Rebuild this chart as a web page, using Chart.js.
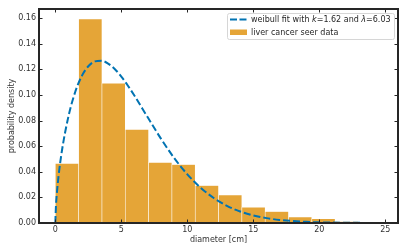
<!DOCTYPE html>
<html>
<head>
<meta charset="utf-8">
<script src="https://cdn.jsdelivr.net/npm/chart.js@4.4.1/dist/chart.umd.min.js"></script>
<style>
html,body{margin:0;padding:0;background:#fff}
#wrap{width:407px;height:252px}
</style>
</head>
<body>
<div id="wrap"><canvas id="myChart" width="407" height="252"></canvas></div>
<script>
// histogram: bin centres (cm) and density
const binCenters = [0.883,2.650,4.416,6.182,7.949,9.715,11.482,13.248,15.015,16.781,18.547,20.314,22.080,23.847];
const binDensity = [0.0465,0.1593,0.1092,0.0731,0.0473,0.0457,0.0293,0.0219,0.0123,0.0090,0.0047,0.0034,0.0011,0.0003];

// weibull fit curve
const fitX = [0,0.05,0.1,0.25,0.5,1,1.5,2,2.5,3,3.5,4,4.5,5,5.5,6,7,8,9,10,11,12,13,14,15,16,17,18,19,20,22,24.7];
const fitY = [0,0.0138,0.0211,0.0371,0.0564,0.0835,0.1021,0.1147,0.1224,0.1262,0.1267,0.1245,0.1203,0.1143,0.1072,0.0993,0.0825,0.0659,0.0508,0.0380,0.0276,0.0195,0.0134,0.0090,0.0059,0.0038,0.0024,0.0015,0.0009,0.0005,0.0002,0.0000];

const xTicks = [0,5,10,15,20,25];
const yTicks = [0,0.02,0.04,0.06,0.08,0.10,0.12,0.14,0.16];

const fitLabel = ["weibull fit with ", "k", "=1.62 and ", "\u03bb", "=6.03"];
const barLabel = "liver cancer seer data";
const xTitle = "diameter [cm]";
const yTitle = "probability density";

const barColor = "rgba(222,143,5,0.8)";
const lineColor = "#0173B2";
const frameColor = "#262626";
const fontFamily = "'DejaVu Sans', sans-serif";

function line(ctx,x1,y1,x2,y2){
    ctx.beginPath(); ctx.moveTo(x1,y1); ctx.lineTo(x2,y2); ctx.stroke();
}

const framePlugin = {
    id: 'frame',
    afterDatasetsDraw(chart){
        const ctx = chart.ctx;
        const a = chart.chartArea;
        const x = chart.scales.x, y = chart.scales.y;
        ctx.save();
        ctx.strokeStyle = frameColor;
        ctx.lineWidth = 1;
        xTicks.forEach(v => {
            const px = Math.round(x.getPixelForValue(v)) + 0.5;
            line(ctx,px,a.bottom,px,a.bottom-3.5);
            line(ctx,px,a.top,px,a.top+3.5);
        });
        yTicks.forEach(v => {
            const py = Math.round(y.getPixelForValue(v)) + 0.5;
            line(ctx,a.left,py,a.left+3.5,py);
            line(ctx,a.right,py,a.right-3.5,py);
        });
        ctx.lineWidth = 2;
        ctx.strokeRect(a.left,a.top,a.right-a.left,a.bottom-a.top);

        // legend
        const lx = 227, ly = 13, lw = 167, lh = 26;
        ctx.beginPath();
        ctx.roundRect(lx+0.5,ly+0.5,lw,lh,2);
        ctx.fillStyle = "rgba(255,255,255,0.8)";
        ctx.fill();
        ctx.strokeStyle = "#d6d6d6";
        ctx.lineWidth = 1;
        ctx.stroke();

        ctx.strokeStyle = lineColor;
        ctx.lineWidth = 2;
        ctx.setLineDash([7,2.5]);
        line(ctx,230,19.5,247,19.5);
        ctx.setLineDash([]);
        ctx.fillStyle = barColor;
        ctx.fillRect(230,29.5,17,5.5);

        ctx.fillStyle = "#262626";
        ctx.textBaseline = "middle";
        ctx.textAlign = "left";
        let tx = 251;
        fitLabel.forEach((part,i) => {
            ctx.font = (i === 1 || i === 3 ? "italic " : "") + "8px " + fontFamily;
            ctx.fillText(part,tx,19.5);
            tx += ctx.measureText(part).width;
        });
        ctx.font = "8px " + fontFamily;
        ctx.fillText(barLabel,251,32.5);
        ctx.restore();
    }
};

new Chart("myChart", {
    type: "bar",
    data: {
        datasets: [
            {
                type: "line",
                label: fitLabel.join(""),
                data: fitX.map((v,i) => ({x: v, y: fitY[i]})),
                borderColor: lineColor,
                borderWidth: 2,
                borderDash: [7,3],
                pointRadius: 0,
                fill: false,
                cubicInterpolationMode: "monotone",
                order: 0
            },
            {
                type: "bar",
                label: barLabel,
                data: binCenters.map((v,i) => ({x: v, y: binDensity[i]})),
                backgroundColor: barColor,
                borderColor: "rgba(255,255,255,0.7)",
                borderWidth: 0.6,
                barPercentage: 1,
                categoryPercentage: 1,
                order: 1
            }
        ]
    },
    options: {
        responsive: false,
        animation: false,
        layout: {padding: {left: 0, right: 9, top: 9, bottom: 0}},
        plugins: {legend: {display: false}, tooltip: {enabled: false}},
        scales: {
            x: {
                type: "linear",
                offset: false,
                min: -1.236,
                max: 25.96,
                grid: {display: false, drawTicks: false, offset: false},
                border: {display: false},
                afterBuildTicks: s => { s.ticks = xTicks.map(v => ({value: v})); },
                afterFit: s => { s.height = 29; },
                ticks: {padding: 2, color: "#333", font: {family: fontFamily, size: 8}},
                title: {display: true, text: xTitle, color: "#333", padding: {top: 0, bottom: 7.5}, font: {family: fontFamily, size: 8}}
            },
            y: {
                min: 0,
                max: 0.1671,
                grid: {display: false, drawTicks: false},
                border: {display: false},
                afterBuildTicks: s => { s.ticks = yTicks.map(v => ({value: v})); },
                afterFit: s => { s.width = 39; },
                ticks: {padding: 3, color: "#333", font: {family: fontFamily, size: 8}, callback: v => v.toFixed(2)},
                title: {display: true, text: yTitle, color: "#333", padding: {top: 7.5, bottom: 0}, font: {family: fontFamily, size: 8}}
            }
        }
    },
    plugins: [framePlugin]
});
</script>
</body>
</html>
